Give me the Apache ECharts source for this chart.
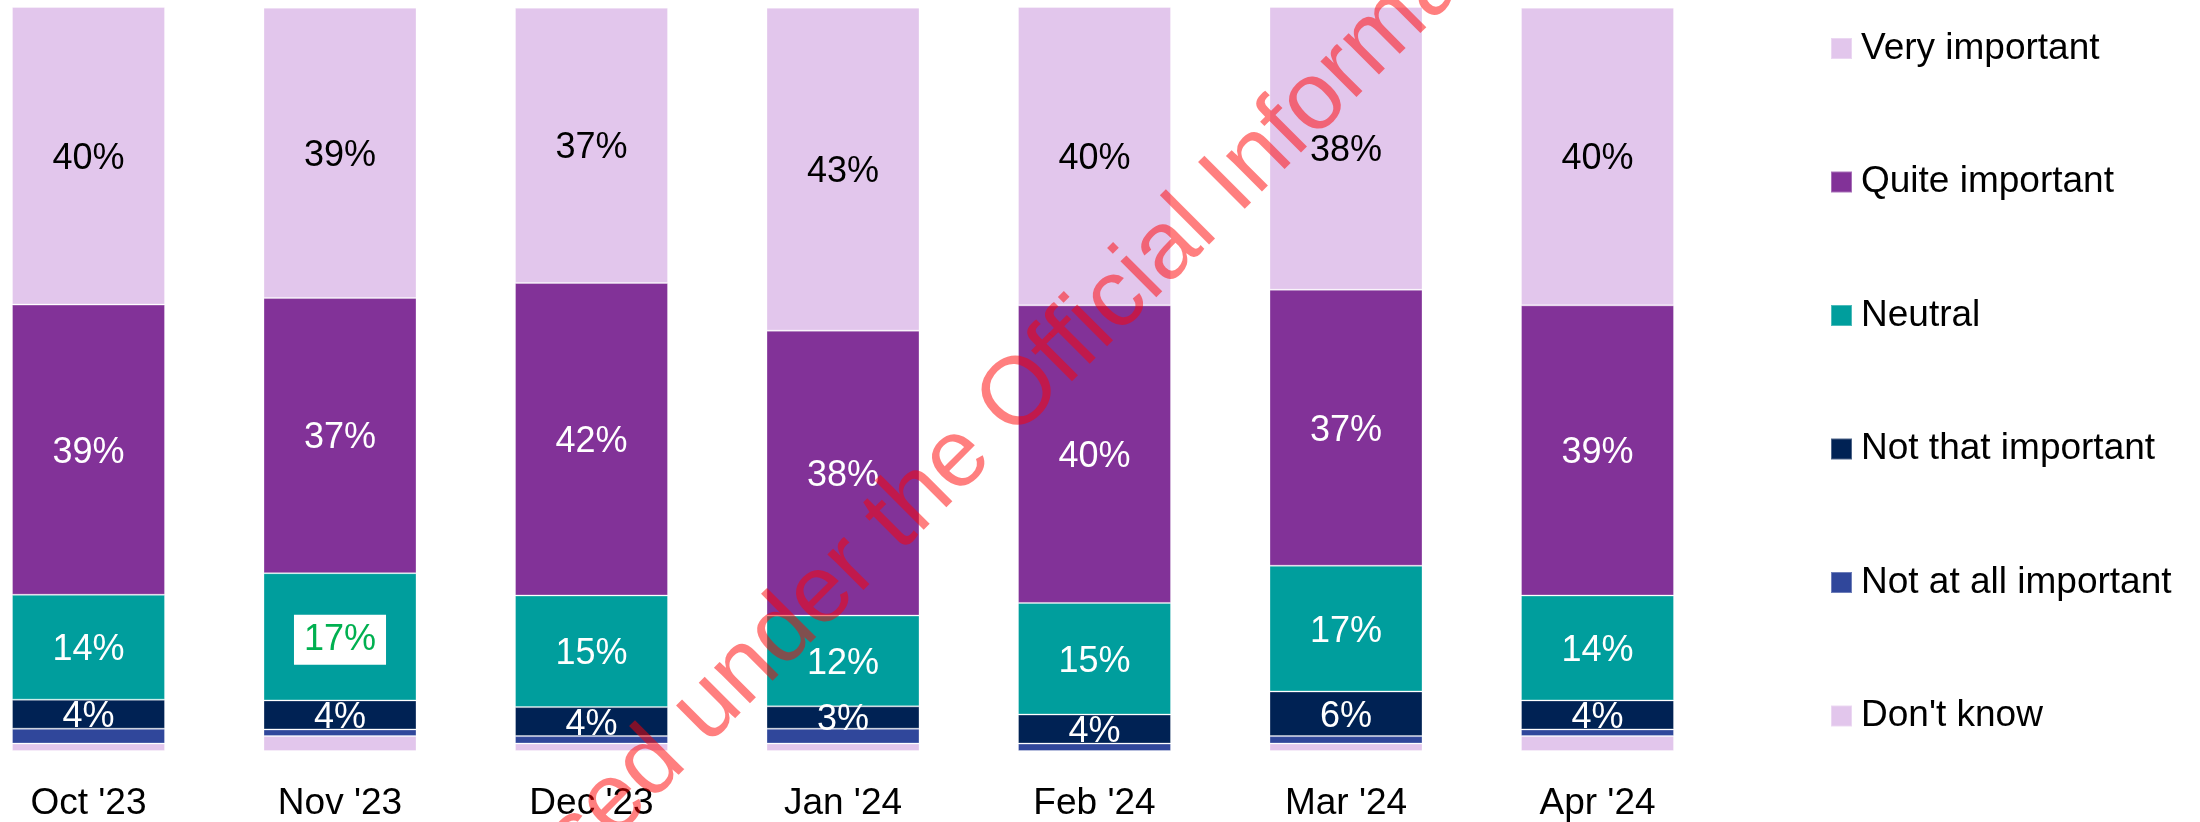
<!DOCTYPE html>
<html>
<head>
<meta charset="utf-8">
<style>
  html, body { margin: 0; padding: 0; background: #fff; }
  #chart { width: 2200px; height: 822px; }
</style>
<script src="https://cdn.jsdelivr.net/npm/echarts@6.0.0/dist/echarts.min.js"></script>
</head>
<body>
<div id="chart"></div>
<script>
// survey months
const categories = ["Oct '23", "Nov '23", "Dec '23", "Jan '24", "Feb '24", "Mar '24", "Apr '24"];

// shares in %
const veryImportant     = [40.0, 39.0, 37.0, 43.4, 40.1, 38.0, 40.0];
const quiteImportant    = [39.0, 37.0, 42.0, 38.3, 40.0, 37.1, 39.0];
const neutral           = [14.1, 17.1, 15.0, 12.2, 15.0, 16.9, 14.1];
const notThatImportant  = [3.9, 3.9, 3.9, 3.0, 3.9, 6.0, 3.9];
const notAtAllImportant = [2.0, 0.9, 1.0, 2.0, 1.0, 1.0, 0.9];
const dontKnow          = [1.0, 2.0, 1.0, 1.0, 0, 1.0, 2.0];

const legendNames = ['Very important', 'Quite important', 'Neutral', 'Not that important', 'Not at all important', "Don't know"];

// the boxed green label on the Nov neutral segment
const highlightIndex = 1;

const FONT = '"Liberation Sans", Arial, sans-serif';
const chart = echarts.init(document.getElementById('chart'), null, { renderer: 'canvas' });

const pct = p => Math.round(p.value) + '%';

function makeSeries(name, values, color, labelColor, showLabel) {
  return {
    name: name,
    type: 'bar',
    stack: 'total',
    barWidth: 153,
    clip: false,
    data: values.map(v => ({ value: v })),
    itemStyle: { color: color, borderColor: 'rgba(255,255,255,0.3)', borderWidth: 1 },
    label: {
      show: showLabel,
      position: 'inside',
      offset: [0, 3],
      formatter: pct,
      color: labelColor,
      fontSize: 36,
      fontFamily: FONT
    },
    emphasis: { disabled: true }
  };
}

const series = [
  makeSeries("Don't know", dontKnow, '#e2c6ec', '#000', false),
  makeSeries('Not at all important', notAtAllImportant, '#30479b', '#fff', false),
  makeSeries('Not that important', notThatImportant, '#002254', '#fff', true),
  makeSeries('Neutral', neutral, '#009e9d', '#fff', true),
  makeSeries('Quite important', quiteImportant, '#823298', '#fff', true),
  makeSeries('Very important', veryImportant, '#e2c6ec', '#000', true)
];

// green boxed label
series[3].data[highlightIndex].label = {
  color: '#00b050',
  backgroundColor: '#fff',
  padding: [7, 10],
  lineHeight: 36
};

// watermark, anchored on the "O" of "Official"
const wmText = 'Released under the Official Information Act 1982';
const wmFont = '96px ' + FONT;
const ctx = document.createElement('canvas').getContext('2d');
ctx.font = wmFont;
const preW = ctx.measureText('Released under the ').width;
const oW = ctx.measureText('O').width;
const ang = 45 * Math.PI / 180;
const anchor = [1021, 395];
const back = preW + oW / 2;
const wmX = anchor[0] - Math.cos(ang) * back;
const wmY = anchor[1] + Math.sin(ang) * back;

const option = {
  animation: false,
  grid: { left: 88.5, right: 602.5, top: 7, bottom: 69 },
  xAxis: {
    type: 'category',
    data: categories,
    boundaryGap: false,
    axisLine: { show: false },
    axisTick: { show: false },
    axisLabel: { color: '#000', fontSize: 37, fontFamily: FONT, margin: 34 }
  },
  yAxis: {
    type: 'value',
    min: 0,
    max: 100,
    show: false,
    splitLine: { show: false }
  },
  legend: {
    orient: 'vertical',
    left: 1825,
    top: 25,
    itemWidth: 21,
    itemHeight: 21,
    itemGap: 96.5,
    icon: 'rect',
    selectedMode: false,
    data: legendNames,
    textStyle: { color: '#000', fontSize: 37, fontFamily: FONT, padding: [0, 0, 0, 4] }
  },
  series: series,
  graphic: [{
    type: 'text',
    x: wmX,
    y: wmY,
    rotation: ang,
    z: 100,
    silent: true,
    style: {
      text: wmText,
      font: wmFont,
      fill: 'rgba(255,0,0,0.5)',
      align: 'left',
      verticalAlign: 'middle'
    }
  }]
};

chart.setOption(option);
window.addEventListener('resize', () => chart.resize());
</script>
</body>
</html>
